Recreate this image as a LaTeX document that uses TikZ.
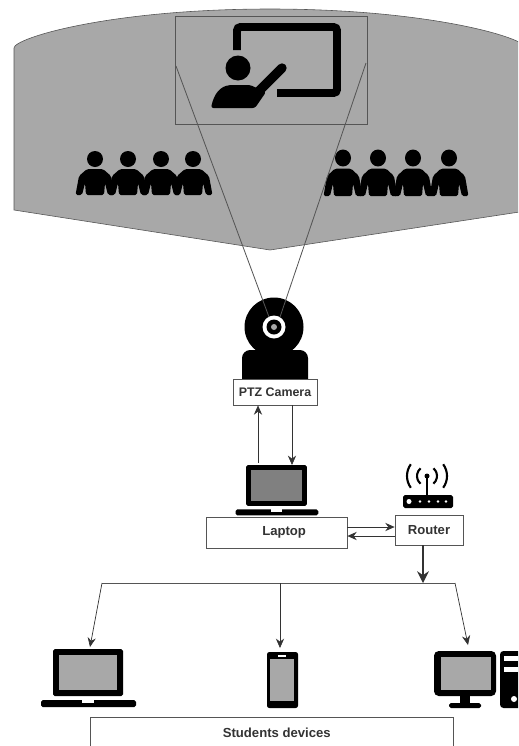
\documentclass[tikz,border=0pt]{standalone}
\usepackage{fontspec}
\setmainfont{Liberation Sans}
\usepackage{xcolor}
\usepackage{tikz}
\usetikzlibrary{arrows.meta,calc}

\definecolor{roomgrey}{HTML}{A8A8A8}
\definecolor{wiregrey}{HTML}{555555}
\definecolor{labelgrey}{HTML}{333333}

\tikzset{
  tagbox/.style={draw=wiregrey,fill=white,line width=0.6pt,inner sep=0pt,text=labelgrey,
    font=\fontsize{11.2}{13}\selectfont\bfseries},
  flow/.style={draw=black!80,line width=0.6pt,-{Stealth[length=8pt,width=7pt]}},
  screenfill/.style={fill=roomgrey},
  person/.pic={
    \fill (0,0) circle (8);
    \fill[rounded corners=1.5pt] (-19.5,36) -- (-16,17) -- (-8,10) -- (8,10) -- (16,17) -- (19.5,36)
      -- (13,36) -- (10,24) -- (9,36) -- (-9,36) -- (-10,24) -- (-13,36) -- cycle;
  },
  laptop/.pic={
    \fill[rounded corners=1.5pt] (-35,0) rectangle (35,47);
    \fill[screenfill] (-29,6) rectangle (29,41);
    \fill[rounded corners=1.5pt] (-47,51) rectangle (48,58);
    \fill[white] (-6,51) rectangle (6,53.5);
  },
}

\begin{document}
\begin{tikzpicture}[x=0.03cm,y=-0.03cm,line width=0.5pt]
    \clip (0,0) rectangle (518,746);
    % room
    \draw[fill=roomgrey,draw=wiregrey] (14,210) -- (14,48) .. controls (14,38) and (110,9) .. (270,9)
      .. controls (430,9) and (526,38) .. (526,48) -- (526,211) -- (270,250) -- cycle;
    \draw[draw=wiregrey,line width=0.8pt] (175,16) rectangle (367,124);
    % teacher
    \draw[line width=6.8pt,rounded corners=3pt] (237,50) -- (237,27) -- (337,27) -- (337,93) -- (277,93);
    \fill (238,68) circle (12.5);
    \fill[rounded corners=2pt] (211,108) .. controls (214,94) and (220,86) .. (232,85) -- (250,85)
      -- (266,92) -- (255,108) -- cycle;
    \draw[line width=8pt,line cap=round] (252,98) -- (282,68);
    % students in the room
    \foreach \px in {95,128,161,193} \pic at (\px,159) {person};
    \foreach \px in {343,378,413,449} \pic[yscale=1.06] at (\px,158) {person};
    % camera
    \fill (274,327) circle (29.5);
    \fill[rounded corners=7pt] (242,380) -- (242,350) -- (308,350) -- (308,380);
    \fill (242,370) rectangle (308,380);
    \fill[white] (274,327) circle (11.5);
    \fill (274,327) circle (7.5);
    \fill[roomgrey] (274,327) circle (3);
    \coordinate (viewleft) at (176,66);
    \coordinate (viewright) at (366,63);
    \coordinate (lensleft) at (269,317);
    \coordinate (lensright) at (280,317);
    \draw[wiregrey,line width=0.7pt] (viewleft) -- (lensleft);
    \draw[wiregrey,line width=0.7pt] (viewright) -- (lensright);
    \node[tagbox,font=\fontsize{10.6}{13}\selectfont\bfseries,minimum width=2.52cm,minimum height=0.78cm] (camerabox) at (275,392) {PTZ Camera\hspace{6pt}};
    % laptop and router
    \pic[scale=0.87,screenfill/.style={fill=black!50}] at (276.5,465) {laptop};
    \node[tagbox,minimum width=4.23cm,minimum height=0.93cm] (laptopbox) at (276.5,532.5) {\hspace{13pt}Laptop};
    \node[tagbox,minimum width=2.04cm,minimum height=0.9cm] (routerbox) at (429,530) {Router};
    \fill[rounded corners=1.5pt] (403,495) rectangle (453,508);
    \fill[white] (409,501.5) circle (2.5);
    \foreach \lx in {420,429,438,446} \fill[white] (\lx,501.5) circle (1.4);
    \draw[line width=1.5pt] (427,476) -- (427,495);
    \fill (427,476) circle (2.5);
    \foreach \wave/\sweep in {10/50,20/36} {
      \draw[line width=1.8pt] (427,476) ++(-\sweep:\wave) arc[start angle=-\sweep,end angle=\sweep,radius=\wave];
      \draw[line width=1.8pt] (427,476) ++(180-\sweep:\wave) arc[start angle=180-\sweep,end angle=180+\sweep,radius=\wave];
    }
    % links
    \coordinate (upfoot) at (258,463);
    \coordinate (downhead) at (292,465);
    \coordinate (sendrow) at (370,527);
    \coordinate (backrow) at (370,536);
    \draw[flow] (upfoot) -- (upfoot |- camerabox.south);
    \draw[flow] (downhead |- camerabox.south) -- (downhead);
    \draw[flow] (sendrow -| laptopbox.east) -- (sendrow -| routerbox.west);
    \draw[flow] (backrow -| routerbox.west) -- (backrow -| laptopbox.east);
    % devices bus
    \coordinate (busleft) at (102,583);
    \coordinate (busmid) at (280,583);
    \coordinate (busright) at (455,583);
    \coordinate (busdrop) at (423,583);
    \coordinate (pcin) at (90,647);
    \coordinate (phonein) at (280,648);
    \coordinate (deskin) at (468,645);
    \draw[wiregrey,line width=0.8pt] (busleft) -- (busright);
    \draw[flow,line width=1pt,-{Stealth[length=10pt,width=10pt]}] (busdrop |- routerbox.south) -- (busdrop);
    \draw[flow] (busleft) -- (pcin);
    \draw[flow] (busmid) -- (phonein);
    \draw[flow] (busright) -- (deskin);
    % student laptop
    \pic at (88,649) {laptop};
    % phone
    \fill[rounded corners=2pt] (267,652) rectangle (298,708);
    \fill[roomgrey] (270,659) rectangle (294,701);
    \fill[white] (278,654.5) rectangle (286,656.5);
    % desktop
    \fill[rounded corners=4pt] (434,651) rectangle (496,696);
    \fill[roomgrey] (441,657) rectangle (491,690);
    \fill (460,696) rectangle (470,704);
    \fill[rounded corners=1.5pt] (449,703) rectangle (481,708);
    \fill[rounded corners=3pt] (500,651) rectangle (530,708);
    \fill[white] (504,656) rectangle (530,661);
    \fill[white] (504,667) rectangle (530,672);
    \fill[white] (514,699) circle (3);
    \node[tagbox,minimum width=10.89cm,minimum height=0.96cm] (studentbox) at (271.5,733) {\hspace{9pt}Students devices};
\end{tikzpicture}
\end{document}
